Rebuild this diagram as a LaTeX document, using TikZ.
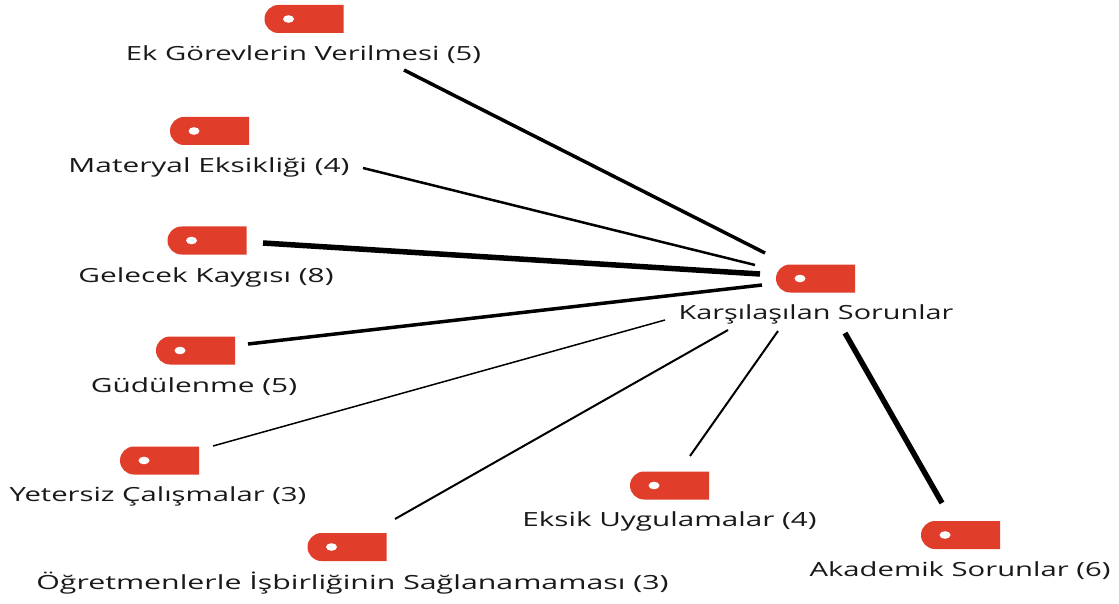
\documentclass[tikz,border=0pt]{standalone}
\usepackage{fontspec}
\setmainfont[FakeStretch=1.5]{Open Sans}
\definecolor{tagred}{HTML}{E03E2A}
\tikzset{
  x=1pt,y=-1pt,
  lbl/.style={font=\fontsize{19.5}{23}\selectfont,text=black!90,inner sep=0pt,anchor=center},
  tagicon/.pic={
    \fill[tagred] (39.5,-14) -- (-25.5,-14) arc[start angle=270,end angle=180,radius=14] -- (-39.5,0) arc[start angle=180,end angle=90,radius=14] -- (39.5,14) -- cycle;
    \fill[white] (-15.5,0) ellipse[x radius=5.5,y radius=3.8];
  },
  link/.style={draw=black,line cap=butt},
}
\begin{document}
\begin{tikzpicture}
\useasboundingbox (0,0) rectangle (1119,604);
\fill[white] (0,0) rectangle (1119,604);
\pic at (304,19) {tagicon};
\pic at (209.5,131) {tagicon};
\pic at (207,240.5) {tagicon};
\pic at (195.5,350.5) {tagicon};
\pic at (159.5,460.5) {tagicon};
\pic at (347,547) {tagicon};
\pic at (669.5,485.5) {tagicon};
\pic at (960.5,535) {tagicon};
\pic at (815.5,278.5) {tagicon};
\node[lbl] (ek) at (303.5,55) {Ek Görevlerin Verilmesi (5)};
\node[lbl] (mat) at (209,167) {\scalebox{1.02}[1]{Materyal Eksikliği (4)}};
\node[lbl] (gel) at (206,277) {\scalebox{1.02}[1]{Gelecek Kaygısı (8)}};
\node[lbl] (gud) at (194,387) {\scalebox{1.02}[1]{Güdülenme (5)}};
\node[lbl] (yet) at (158,496) {Yetersiz Çalışmalar (3)};
\node[lbl] (ogr) at (352.5,583) {\scalebox{1.036}[1]{Öğretmenlerle İşbirliğinin Sağlanamaması (3)}};
\node[lbl] (eks) at (669.5,521) {\scalebox{1.014}[1]{Eksik Uygulamalar (4)}};
\node[lbl] (aka) at (960,571) {Akademik Sorunlar (6)};
\node[lbl] (hub) at (816,314) {\scalebox{0.985}[1]{Karşılaşılan Sorunlar}};
\draw[link,line width=3.5] ([shift={(100.5,15)}]ek.center) -- ([shift={(-51,-61)}]hub.center);
\draw[link,line width=2.5] ([shift={(154,1)}]mat.center) -- ([shift={(-61,-49)}]hub.center);
\draw[link,line width=5.5] ([shift={(57,-34)}]gel.center) -- ([shift={(-56,-40)}]hub.center);
\draw[link,line width=3.5] ([shift={(54,-43)}]gud.center) -- ([shift={(-54,-29)}]hub.center);
\draw[link,line width=1.5] ([shift={(55,-50)}]yet.center) -- ([shift={(-151,6)}]hub.center);
\draw[link,line width=2] ([shift={(42.5,-64)}]ogr.center) -- ([shift={(-88,16)}]hub.center);
\draw[link,line width=2] ([shift={(20.5,-65)}]eks.center) -- ([shift={(-38,17)}]hub.center);
\draw[link,line width=5.5] ([shift={(-18,-68)}]aka.center) -- ([shift={(29,19)}]hub.center);
\end{tikzpicture}
\end{document}
